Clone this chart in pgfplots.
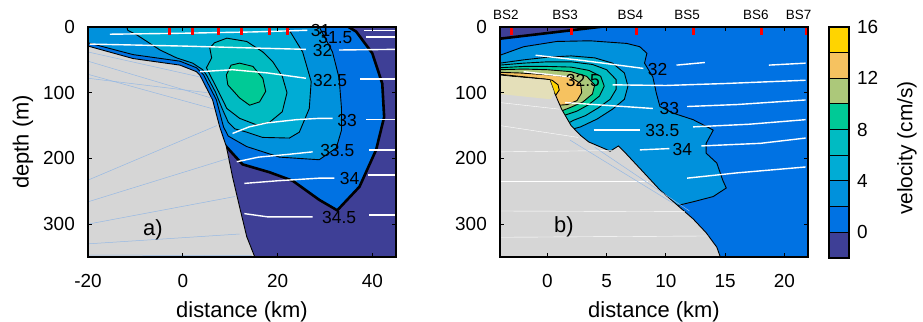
\documentclass[border=0pt]{standalone}
\usepackage{pgfplots}
\pgfplotsset{compat=1.18}
\usepackage{fontspec}
\setmainfont{Liberation Sans}
\definecolor{c0}{RGB}{62,63,150}
\definecolor{c1}{RGB}{0,114,227}
\definecolor{c2}{RGB}{0,145,220}
\definecolor{c3}{RGB}{0,172,213}
\definecolor{c4}{RGB}{0,187,194}
\definecolor{c5}{RGB}{0,202,150}
\definecolor{c6}{RGB}{172,200,122}
\definecolor{c7}{RGB}{246,194,96}
\definecolor{c8}{RGB}{255,212,0}
\definecolor{bath}{RGB}{214,214,214}
\definecolor{faintblue}{RGB}{150,185,228}
\definecolor{pale}{RGB}{232,226,178}
\newcommand{\tickfont}{\fontsize{19}{22}\selectfont}
\newcommand{\labfont}{\fontsize{22}{26}\selectfont}
\newcommand{\clfont}{\fontsize{17.5}{20}\selectfont}
\pgfplotsset{
  panel/.style={anchor=south west, width=308bp, height=230bp, scale only axis,
    ymin=0, ymax=350, y dir=reverse, clip mode=individual, axis on top,
    no markers, scaled ticks=false,
    ytick={0,100,200,300}, yticklabels={0,100,200,300},
    tick align=inside, major tick length=4bp,
    every tick/.style={black, line width=1bp},
    axis line style={line width=1.3bp},
    ticklabel style={font=\tickfont, inner sep=0pt},
    xticklabel style={anchor=base, yshift=-30bp},
    yticklabel style={anchor=east, xshift=-13bp},
    label style={font=\labfont},
    xlabel style={at={(axis description cs:0.5,-0.265)}, anchor=base},
  },
  thin/.style={draw=black, line width=0.9bp},
  thick/.style={draw=black, line width=2.6bp},
  sal/.style={draw=white, line width=1.4bp},
  stn/.style={draw=red, line width=3bp},
}
\begin{document}
\begin{tikzpicture}
\path[use as bounding box] (0bp,0bp) rectangle (923bp,322bp);
% ---------------- panel a ----------------
\begin{axis}[panel, at={(88bp,65bp)}, xmin=-20, xmax=45,
  xtick={-20,0,20,40}, xticklabels={-20,0,20,40},
  xlabel={distance (km)}, ylabel={depth (m)},
  ylabel style={at={(axis description cs:-0.211,0.5)}, anchor=center}]
% background (velocity < 0)
\addplot[fill=c0, draw=none] coordinates {(-20,0)(45,0)(45,350)(-20,350)} -- cycle;
% 0-2
\addplot[fill=c1, draw=none] coordinates {(-20,0)(35,0)(36.6,7)(40,40)(42.1,86)(42.5,137)(40.8,187)(37.3,243)(32.6,279)(28.8,263)(23.2,234)(18.3,221)(12.6,209)(8.8,179)(-20,179)} -- cycle;
% 2-4
\addplot[fill=c2, thin] coordinates {(-20,0)(28.8,0)(31.6,38)(33,78)(33.5,124)(33.5,157)(32.4,184)(28.8,202)(20.4,198)(13.5,182)(9.6,166)(8.6,152)(7.1,111)(4.4,73)(2.9,62)(-0.6,52)(-10.5,42)(-20,24)} -- cycle;
% 4-6
\addplot[fill=c3, thin] coordinates {(-11.8,0)(-11.6,5)(-9.7,12)(-4.8,35)(-1.3,47)(2.1,55)(4.2,65)(5.0,73)(6.9,99)(8.3,124)(9.6,145)(11,155)(13.5,160)(16.8,168)(22.5,169)(24.6,160)(26.7,124)(27.1,83)(25.3,38)(22.5,5)(22,0)} -- cycle;
% 6-8
\addplot[fill=c4, thin] coordinates {(5.7,32)(6.7,24)(9.3,17)(13.5,22)(16.9,38)(19,53)(21,75)(22,100)(21,129)(18.3,145)(15.6,149)(12,139)(9.3,124)(7.6,99)(5.9,75)(5.0,62)(6.1,47)} -- cycle;
% 8-10
\addplot[fill=c5, thin] coordinates {(10.2,58)(12,55)(14.8,60)(16.9,78)(17.5,98)(16.2,114)(14.1,119)(12,108)(9.5,88)(9.2,73)} -- cycle;
% zero contour
\addplot[thick] coordinates {(8.8,179)(12.6,209)(18.3,221)(23.2,234)(28.8,263)(32.6,279)(37.3,243)(40.8,187)(42.5,137)(42.1,86)(40,40)(36.6,7)(35,0)};
% bathymetry
\addplot[fill=bath, thin] coordinates {(-20,29)(-10.5,48)(-0.6,58)(2.9,68)(3.6,73)(6.3,111)(7.8,152)(9.2,182)(10.5,228)(12,274)(13.5,319)(15.2,350)(-20,350)} -- cycle;
% faint section lines in the bathymetry
\addplot[draw=faintblue, line width=0.5bp] coordinates {(-20,38)(3.6,76)};
\addplot[draw=faintblue, line width=0.5bp] coordinates {(-20,52)(6.0,108)};
\addplot[draw=faintblue, line width=0.5bp] coordinates {(-20,72)(6.6,125)};
\addplot[draw=faintblue, line width=0.5bp] coordinates {(-20,78)(5.2,100)};
\addplot[draw=faintblue, line width=0.5bp] coordinates {(-20,233)(7.2,150)};
\addplot[draw=faintblue, line width=0.5bp] coordinates {(-20,266)(9.6,200)};
\addplot[draw=faintblue, line width=0.5bp] coordinates {(-20,300)(11,258)};
\addplot[draw=faintblue, line width=0.5bp] coordinates {(-20,330)(12,315)};
\addplot[draw=faintblue, line width=0.5bp] coordinates {(-20,347)(14.6,348)};
% salinity contours
\addplot[sal] coordinates {(-15.4,11)(0,9.5)(15,7.5)(26.3,5)};
\addplot[sal] coordinates {(38.3,5)(45,5)};
\addplot[sal] coordinates {(38.7,15)(45,15)};
\addplot[sal] coordinates {(-19.6,26)(0,29)(15,32)(26,34)};
\addplot[sal] coordinates {(33,35)(45,34)};
\addplot[sal] coordinates {(3.6,68)(10.5,65)(18,70)(26,78)};
\addplot[sal] coordinates {(37.5,79)(45,79)};
\addplot[sal] coordinates {(10.5,162)(14,152)(17.7,146)(24,141)(28.8,139)(31.6,139)};
\addplot[sal] coordinates {(38.7,141)(45,141)};
\addplot[sal] coordinates {(11.4,205)(16,198)(22,194)(27.4,190)};
\addplot[sal] coordinates {(39.4,187)(45,187)};
\addplot[sal] coordinates {(13,238)(20,234)(28.8,230)(32,230)};
\addplot[sal] coordinates {(39,225)(45,225)};
\addplot[sal] coordinates {(13,284)(18,289)(27.4,289)};
\addplot[sal] coordinates {(39.4,286)(45,286)};
\node[font=\clfont] at (axis cs:29.1,5) {31};
\node[font=\clfont] at (axis cs:32.2,16) {31.5};
\node[font=\clfont] at (axis cs:29.5,35) {32};
\node[font=\clfont] at (axis cs:31.1,81) {32.5};
\node[font=\clfont] at (axis cs:34.7,143) {33};
\node[font=\clfont] at (axis cs:32.6,188) {33.5};
\node[font=\clfont] at (axis cs:35.2,230) {34};
\node[font=\clfont] at (axis cs:33,290) {34.5};
% stations
\addplot[stn] coordinates {(-2.9,0)(-2.9,12)};
\addplot[stn] coordinates {(2.1,0)(2.1,12)};
\addplot[stn] coordinates {(7.6,0)(7.6,12)};
\addplot[stn] coordinates {(12.4,0)(12.4,12)};
\addplot[stn] coordinates {(18.3,0)(18.3,12)};
\addplot[stn] coordinates {(22.1,0)(22.1,12)};
\node[font=\labfont] at (axis cs:-6.3,309) {a)};
\end{axis}
% ---------------- panel b ----------------
\begin{axis}[panel, at={(500bp,65bp)}, xmin=-4, xmax=22,
  xtick={0,5,10,15,20}, xticklabels={0,5,10,15,20},
  xlabel={distance (km)}]
\addplot[fill=c1, draw=none] coordinates {(-4,0)(22,0)(22,350)(-4,350)} -- cycle;
\addplot[fill=c0, draw=none] coordinates {(-4,0)(4.6,0)(-4,17.5)} -- cycle;
\addplot[thick] coordinates {(-4.1,18)(4.6,-0.5)};
% 2-4
\addplot[fill=c2, thin] coordinates {(-4,43)(-2,30)(0.8,22)(3.6,21)(6.7,25)(7.8,30)(8.4,40)(8.2,55)(8.9,76)(9.2,101)(9.5,121)(10.6,131)(12.3,141)(13.7,154)(14,157)(13.4,177)(13.4,192)(14.3,207)(14.8,233)(15.1,245)(14,258)(12.3,266)(10.9,272)(8,272)(-4,272)} -- cycle;
% 4-6
\addplot[fill=c3, thin] coordinates {(-4,55)(-2,50)(0,46)(2,44)(4,47)(5.5,55)(6.5,70)(6.8,90)(6.5,110)(5.5,125)(4.2,140)(2.8,152)(2,156)(-4,156)} -- cycle;
% 6-8
\addplot[fill=c4, thin] coordinates {(-4,58)(-2,55)(0,53)(2,53)(3.8,57)(5.0,65)(5.8,80)(5.8,95)(5.3,110)(4.3,123)(3.2,135)(2.2,142)(1.8,146)(-4,146)} -- cycle;
% 8-10
\addplot[fill=c5, thin] coordinates {(-4,62)(-2,60)(0,60)(2,61)(3.5,66)(4.5,75)(4.8,90)(4.4,105)(3.5,118)(2.5,128)(1.5,134)(-4,134)} -- cycle;
% 10-12
\addplot[fill=c6, thin] coordinates {(-4,65)(-2,64)(0,65)(2,68)(3.3,75)(4.0,88)(3.8,102)(3.0,114)(2.0,122)(1.3,127)(-4,127)} -- cycle;
% 12-14
\addplot[fill=c7, thin] coordinates {(-4,69)(-2.3,70)(0.25,73)(1.9,76)(2.8,86)(2.9,100)(2.5,112)(1.7,118)(1.0,119)(-4,119)} -- cycle;
% 14-16
\addplot[fill=c8, thin] coordinates {(-4,72)(-0.3,79)(0.4,81)(0.9,88)(1.0,96)(0.7,104)(0.2,105)(-4,105)} -- cycle;
% bathymetry
\addplot[fill=bath, thin] coordinates {(-4,73)(-3,75)(0.2,80)(0.6,100)(1.2,125)(2,150)(2.8,165)(3.5,175)(4.8,185)(5.3,189)(6.0,181)(6.5,190)(7.8,215)(9.5,248)(10.9,270)(12.3,292)(13.4,313)(14.3,335)(14.6,350)(-4,350)} -- cycle;
\addplot[fill=pale, draw=none, opacity=0.8] coordinates {(-4,74)(0.2,81)(0.6,100)(0.3,110)(-4,102)} -- cycle;
\addplot[draw=white, line width=0.4bp] coordinates {(-4,115)(1,125)};
\addplot[draw=white, line width=0.4bp] coordinates {(-4,150)(2.6,168)};
\addplot[draw=white, line width=0.4bp] coordinates {(-4,190)(5.5,188)};
\addplot[draw=white, line width=0.4bp] coordinates {(-4,235)(8.5,235)};
\addplot[draw=white, line width=0.4bp] coordinates {(-4,280)(11.6,281)};
\addplot[draw=white, line width=0.4bp] coordinates {(-4,320)(13.6,318)};
\addplot[draw=faintblue, line width=0.5bp] coordinates {(1.9,172)(10.6,268)};
\addplot[draw=faintblue, line width=0.5bp] coordinates {(4,183)(12,280)};
% salinity contours
\addplot[sal] coordinates {(-1,43)(3,51)(8.1,63)};
\addplot[sal] coordinates {(10.9,58)(13.3,54)};
\addplot[sal] coordinates {(18.7,58)(21.8,55)};
\addplot[sal] coordinates {(-2,68)(1.9,76)};
\addplot[sal] coordinates {(5.5,88)(10,89)(15,86)(21.8,81)};
\addplot[sal] coordinates {(1.5,115)(8.9,124)};
\addplot[sal] coordinates {(11.8,121)(16,118)(21.8,111)};
\addplot[sal] coordinates {(3.9,157)(7.8,157)};
\addplot[sal] coordinates {(12.3,152)(17,148)(21.8,141)};
\addplot[sal] coordinates {(7.8,187)(10.3,185)};
\addplot[sal] coordinates {(13,181)(18,177)(21.8,169)};
\addplot[sal] coordinates {(11.8,230)(16,222)(21.8,213)};
\node[font=\clfont] at (axis cs:9.3,64) {32};
\node[font=\clfont] at (axis cs:3.0,82) {32.5};
\node[font=\clfont] at (axis cs:10.3,124) {33};
\node[font=\clfont] at (axis cs:9.7,157) {33.5};
\node[font=\clfont] at (axis cs:11.4,187) {34};
% stations
\addplot[stn] coordinates {(-3.0,0)(-3.0,12)};
\addplot[stn] coordinates {(2.0,0)(2.0,12)};
\addplot[stn] coordinates {(7.5,0)(7.5,12)};
\addplot[stn] coordinates {(12.3,0)(12.3,12)};
\addplot[stn] coordinates {(18.1,0)(18.1,12)};
\addplot[stn] coordinates {(21.85,0)(21.85,12)};
\node[font=\fontsize{13.5}{15}\selectfont, anchor=base] at (axis cs:-3.5,-11) {BS2};
\node[font=\fontsize{13.5}{15}\selectfont, anchor=base] at (axis cs:1.5,-11) {BS3};
\node[font=\fontsize{13.5}{15}\selectfont, anchor=base] at (axis cs:7.0,-11) {BS4};
\node[font=\fontsize{13.5}{15}\selectfont, anchor=base] at (axis cs:11.8,-11) {BS5};
\node[font=\fontsize{13.5}{15}\selectfont, anchor=base] at (axis cs:17.6,-11) {BS6};
\node[font=\fontsize{13.5}{15}\selectfont, anchor=base] at (axis cs:21.2,-11) {BS7};
\node[font=\labfont] at (axis cs:1.4,304) {b)};
\end{axis}
% ---------------- colour bar ----------------
\begin{axis}[at={(829bp,64bp)}, anchor=south west, width=20bp, height=231bp, scale only axis,
  xmin=0, xmax=1, ymin=-2, ymax=16, xtick=\empty, ytick={0,4,8,12,16},
  yticklabels={0,4,8,12,16},
  yticklabel pos=right, major tick length=0pt, axis on top,
  axis line style={line width=1.3bp},
  ticklabel style={font=\tickfont, inner sep=0pt},
  yticklabel style={anchor=west, xshift=8bp}]
\addplot[fill=c0, draw=black, line width=1bp] coordinates {(0,-2)(1,-2)(1,0)(0,0)} -- cycle;
\addplot[fill=c1, draw=black, line width=1bp] coordinates {(0,0)(1,0)(1,2)(0,2)} -- cycle;
\addplot[fill=c2, draw=black, line width=1bp] coordinates {(0,2)(1,2)(1,4)(0,4)} -- cycle;
\addplot[fill=c3, draw=black, line width=1bp] coordinates {(0,4)(1,4)(1,6)(0,6)} -- cycle;
\addplot[fill=c4, draw=black, line width=1bp] coordinates {(0,6)(1,6)(1,8)(0,8)} -- cycle;
\addplot[fill=c5, draw=black, line width=1bp] coordinates {(0,8)(1,8)(1,10)(0,10)} -- cycle;
\addplot[fill=c6, draw=black, line width=1bp] coordinates {(0,10)(1,10)(1,12)(0,12)} -- cycle;
\addplot[fill=c7, draw=black, line width=1bp] coordinates {(0,12)(1,12)(1,14)(0,14)} -- cycle;
\addplot[fill=c8, draw=black, line width=1bp] coordinates {(0,14)(1,14)(1,16)(0,16)} -- cycle;
\end{axis}
\node[rotate=90, font=\fontsize{21}{24}\selectfont] at (907bp,174bp) {velocity (cm/s)};
\end{tikzpicture}
\end{document}
